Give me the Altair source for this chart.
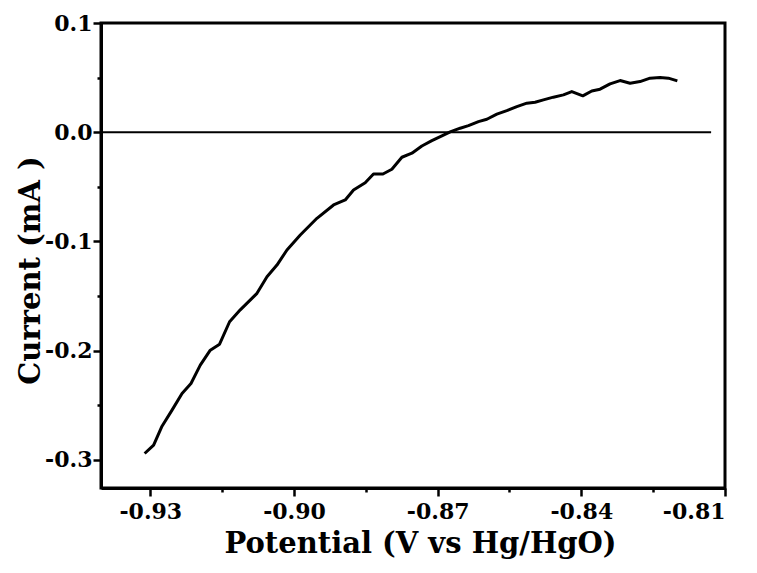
import altair as alt
import pandas as pd

potential = [-0.93119, -0.92931, -0.92756, -0.92547, -0.92338, -0.92151, -0.91957, -0.91748,
             -0.91554, -0.91345, -0.91122, -0.90773, -0.90564, -0.90356, -0.90147, -0.89869,
             -0.89521, -0.89174, -0.88930, -0.88757, -0.88513, -0.88340, -0.88143, -0.87956,
             -0.87747, -0.87538, -0.87330, -0.87121, -0.86912, -0.86739, -0.86530, -0.86357,
             -0.86148, -0.85973, -0.85764, -0.85556, -0.85347, -0.85138, -0.84965, -0.84792,
             -0.84583, -0.84374, -0.84199, -0.83969, -0.83782, -0.83609, -0.83400, -0.83191,
             -0.82982, -0.82774, -0.82565, -0.82356, -0.82183, -0.81995]
current = [-0.2941, -0.2865, -0.2691, -0.2544, -0.2391, -0.2300, -0.2132, -0.1995,
           -0.1940, -0.1735, -0.1626, -0.1475, -0.1323, -0.1216, -0.1078, -0.0941,
           -0.0788, -0.0666, -0.0620, -0.0529, -0.0462, -0.0382, -0.0382, -0.0339,
           -0.0229, -0.0192, -0.0126, -0.0077, -0.0034, 0.0003, 0.0037, 0.0060,
           0.0097, 0.0119, 0.0165, 0.0198, 0.0235, 0.0266, 0.0275, 0.0296,
           0.0321, 0.0342, 0.0372, 0.0333, 0.0378, 0.0394, 0.0443, 0.0473,
           0.0449, 0.0464, 0.0495, 0.0500, 0.0495, 0.0470]

x_ticks = [-0.93, -0.915, -0.90, -0.885, -0.87, -0.855, -0.84, -0.825, -0.81]
y_ticks = [0.1, 0.05, 0.0, -0.05, -0.1, -0.15, -0.2, -0.25, -0.3]
x_domain = [-0.9403, -0.81]
y_domain = [-0.3257, 0.1]
zero_line_x = [-0.9403, -0.8129]
zero_line_y = [0.0]

x_title = "Potential (V vs Hg/HgO)"
y_title = "Current (mA )"

df = pd.DataFrame({"potential": potential, "current": current})
zero_df = pd.DataFrame({"x1": [zero_line_x[0]], "x2": [zero_line_x[1]], "y": zero_line_y})

FONT = "DejaVu Serif"
MINUS = "\u2212"

x_major = "abs(round(datum.value*1000) % 30) == 0"
y_major = "abs(round(datum.value*100) % 10) == 0"

x_axis = alt.Axis(
    values=x_ticks, format=".2f",
    labelExpr=f"{x_major} ? replace(datum.label, '{MINUS}', '-') : ''",
    tickSize={"condition": {"test": x_major, "value": 8}, "value": 4},
    tickWidth=2.5, tickColor="black", domainColor="black", domainWidth=3,
    labelFont=FONT, labelFontWeight="bold", labelFontSize=22, labelColor="black",
    labelPadding=5, grid=False,
    title=x_title, titleFont=FONT, titleFontWeight="bold", titleFontSize=29,
    titleColor="black", titleX=319, titleY=64, titleBaseline="alphabetic",
    titleAlign="center",
)
y_axis = alt.Axis(
    values=y_ticks, format=".1f",
    labelExpr=f"{y_major} ? replace(datum.label, '{MINUS}', '-') : ''",
    tickSize={"condition": {"test": y_major, "value": 8}, "value": 4},
    tickWidth=2.5, tickColor="black", domainColor="black", domainWidth=3,
    labelFont=FONT, labelFontWeight="bold", labelFontSize=22, labelColor="black",
    labelPadding=1, grid=False,
    title=y_title, titleFont=FONT, titleFontWeight="bold", titleFontSize=29,
    titleColor="black", titleX=-62, titleY=247, titleBaseline="alphabetic",
    titleAlign="center", titleAngle=270,
)

xs = alt.Scale(domain=x_domain, nice=False, zero=False)
ys = alt.Scale(domain=y_domain, nice=False, zero=False)

line = alt.Chart(df).mark_line(color="black", strokeWidth=3, strokeJoin="round").encode(
    x=alt.X("potential:Q", scale=xs, axis=x_axis),
    y=alt.Y("current:Q", scale=ys, axis=y_axis),
)

zero = alt.Chart(zero_df).mark_rule(color="black", strokeWidth=2).encode(
    x=alt.X("x1:Q", scale=xs),
    x2="x2:Q",
    y=alt.Y("y:Q", scale=ys),
)

chart = alt.layer(zero, line).properties(
    width=624, height=465,
    autosize=alt.AutoSizeParams(type="none"),
    padding={"left": 93, "top": 15, "right": 16, "bottom": 73},
    background="white",
).configure_view(stroke="black", strokeWidth=3)

chart.save("out.html", embed_options={"renderer": "svg", "actions": False})
